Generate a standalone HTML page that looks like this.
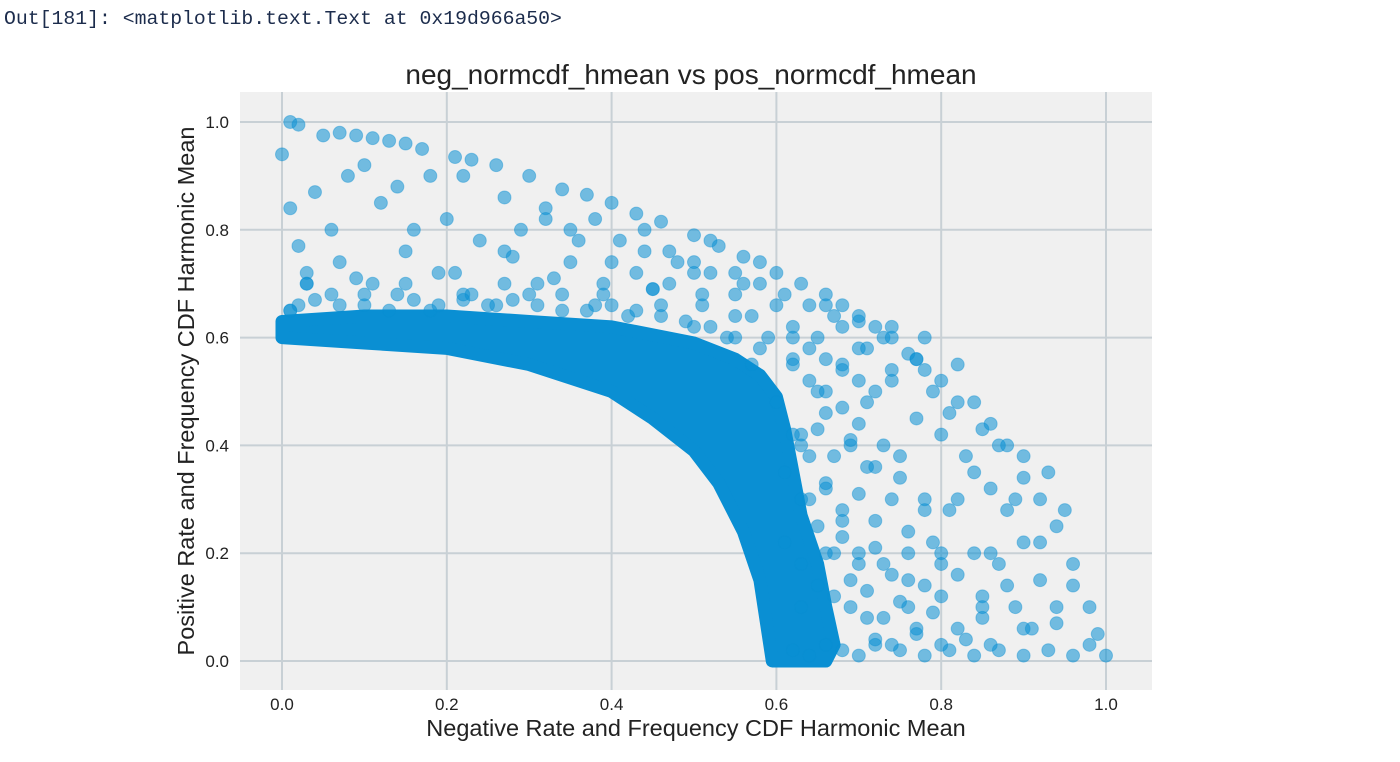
<!DOCTYPE html>
<html><head><meta charset="utf-8"><style>
body{margin:0;background:#fff;width:1400px;height:757px;overflow:hidden}
svg text{font-family:"Liberation Sans",sans-serif}
</style></head><body>
<svg width="1400" height="757">
<text x="4" y="24" style="font-family:'Liberation Mono',monospace" font-size="19.8" fill="#1c2c4c">Out[181]: &lt;matplotlib.text.Text at 0x19d966a50&gt;</text>
<rect x="240" y="92" width="912" height="598" fill="#f0f0f0"/>
<g id="grid"></g>
<g id="band"></g>
<g id="pts"></g>
<g id="ticks"></g>
<text x="691" y="84" text-anchor="middle" font-size="28" fill="#222">neg_normcdf_hmean vs pos_normcdf_hmean</text>
<text x="696" y="736" text-anchor="middle" font-size="23.5" fill="#222">Negative Rate and Frequency CDF Harmonic Mean</text>
<text transform="translate(194,391) rotate(-90)" text-anchor="middle" font-size="23.5" fill="#222">Positive Rate and Frequency CDF Harmonic Mean</text>
</svg>
<script>
const xTicks=[0,0.2,0.4,0.6,0.8,1.0];
const yTicks=[0,0.2,0.4,0.6,0.8,1.0];
const bandX=[0,0.1,0.2,0.3,0.4,0.5,0.55,0.58,0.6,0.61,0.62,0.63,0.65,0.66,0.67,0.66,0.64,0.6,0.595,0.59,0.58,0.56,0.53,0.5,0.45,0.4,0.3,0.2,0.1,0];
const bandY=[0.63,0.64,0.64,0.63,0.62,0.59,0.56,0.53,0.49,0.43,0.35,0.27,0.18,0.1,0.03,0.0,0.0,0.0,0.0,0.05,0.15,0.24,0.33,0.39,0.45,0.5,0.55,0.58,0.59,0.6];
const ptX=[0.01,0.02,0.05,0.07,0.09,0.11,0.13,0.15,0.17,0.21,0.23,0.26,0.3,0.34,0.37,0.4,0.43,0.46,0.5,0.53,0.56,0.6,0.63,0.66,0.68,0.7,0.73,0.76,0.78,0.8,0.82,0.85,0.87,0.9,0.92,0.94,0.96,0.98,0.99,1.0,
0.0,0.01,0.02,0.03,0.01,0.04,0.06,0.08,0.1,0.12,0.14,0.16,0.18,0.2,0.22,0.24,0.27,0.29,0.32,0.35,0.38,0.41,0.44,0.47,0.5,0.52,0.55,0.58,0.61,0.64,0.67,0.7,0.72,0.74,0.77,0.79,0.81,0.84,0.86,0.88,0.9,0.93,0.95,
0.03,0.07,0.11,0.15,0.19,0.23,0.27,0.31,0.35,0.39,0.43,0.47,0.51,0.55,0.59,0.62,0.65,0.68,0.71,0.74,0.77,0.8,0.83,0.86,0.89,0.92,
0.02,0.06,0.1,0.14,0.18,0.22,0.26,0.3,0.34,0.38,0.42,0.46,0.5,0.54,0.57,0.6,0.63,0.66,0.69,0.72,0.75,0.78,0.81,0.84,0.87,
0.62,0.64,0.66,0.68,0.7,0.72,0.75,0.78,0.81,0.84,0.87,0.9,0.93,0.96,0.98,0.63,0.67,0.71,0.76,0.8,0.85,0.89,0.94,
0.61,0.63,0.65,0.67,0.69,0.62,0.64,0.66,0.68,0.61,0.63,0.65,0.7,0.73,0.76,0.79,0.82,0.85,0.88,0.91,
0.01,0.04,0.07,0.1,0.13,0.16,0.19,0.22,0.25,0.28,0.31,0.34,0.37,0.4,0.43,0.46,0.49,0.52,0.55,0.58,0.03,0.09,0.15,0.21,0.27,0.33,0.39,0.45,0.51,0.57,
0.62,0.64,0.66,0.68,0.7,0.62,0.64,0.66,0.68,0.7,0.72,0.63,0.65,0.67,0.69,0.71,0.73,0.75,0.64,0.66,0.68,0.7,0.72,0.74,0.76,0.78,0.66,0.68,0.7,0.72,0.74,0.76,0.78,0.8,0.69,0.71,0.73,0.75,0.77,0.79,0.82,0.72,0.74,0.77,0.8,0.83,0.86,0.62,0.65,0.68,0.71,0.74,0.77,0.66,0.7,0.74,0.78,0.82,
0.44,0.48,0.52,0.56,0.58,0.6,0.55,0.5,0.45,0.4,0.36,0.32,0.28,0.84,0.88,0.9,0.86,0.82,0.92,0.94,0.96,0.9,0.85,0.8];
const ptY=[1.0,0.995,0.975,0.98,0.975,0.97,0.965,0.96,0.95,0.935,0.93,0.92,0.9,0.875,0.865,0.85,0.83,0.815,0.79,0.77,0.75,0.72,0.7,0.68,0.66,0.63,0.6,0.57,0.54,0.52,0.48,0.43,0.4,0.34,0.3,0.25,0.18,0.1,0.05,0.01,
0.94,0.84,0.77,0.72,0.65,0.87,0.8,0.9,0.92,0.85,0.88,0.8,0.9,0.82,0.9,0.78,0.86,0.8,0.84,0.8,0.82,0.78,0.8,0.76,0.74,0.78,0.72,0.7,0.68,0.66,0.64,0.58,0.62,0.54,0.56,0.5,0.46,0.48,0.44,0.4,0.38,0.35,0.28,
0.7,0.74,0.7,0.76,0.72,0.68,0.76,0.7,0.74,0.68,0.72,0.7,0.66,0.68,0.6,0.56,0.5,0.55,0.48,0.52,0.45,0.42,0.38,0.32,0.3,0.22,
0.66,0.68,0.66,0.68,0.65,0.67,0.66,0.68,0.65,0.66,0.64,0.66,0.62,0.6,0.55,0.48,0.42,0.46,0.4,0.36,0.38,0.3,0.28,0.2,0.18,
0.02,0.01,0.03,0.02,0.01,0.03,0.02,0.01,0.02,0.01,0.02,0.01,0.02,0.01,0.03,0.1,0.12,0.08,0.1,0.12,0.08,0.1,0.07,
0.35,0.3,0.25,0.2,0.15,0.42,0.38,0.32,0.26,0.22,0.18,0.14,0.2,0.18,0.15,0.22,0.16,0.12,0.14,0.06,
0.65,0.67,0.66,0.68,0.65,0.67,0.66,0.68,0.66,0.67,0.66,0.68,0.65,0.66,0.65,0.64,0.63,0.62,0.6,0.58,0.7,0.71,0.7,0.72,0.7,0.71,0.7,0.69,0.68,0.64,
0.55,0.52,0.5,0.47,0.44,0.6,0.58,0.56,0.54,0.52,0.5,0.4,0.43,0.38,0.41,0.36,0.4,0.34,0.3,0.33,0.28,0.31,0.26,0.3,0.24,0.28,0.2,0.23,0.18,0.21,0.16,0.2,0.14,0.18,0.1,0.13,0.08,0.11,0.06,0.09,0.06,0.04,0.03,0.05,0.03,0.04,0.03,0.62,0.6,0.62,0.58,0.6,0.56,0.66,0.64,0.62,0.6,0.55,
0.76,0.74,0.72,0.7,0.74,0.66,0.64,0.72,0.69,0.74,0.78,0.82,0.75,0.35,0.28,0.22,0.2,0.3,0.15,0.1,0.14,0.06,0.1,0.2];
const X=v=>282+v*824, Y=v=>661-v*539;
const NS='http://www.w3.org/2000/svg';
const grid=document.getElementById('grid'),ticks=document.getElementById('ticks');
xTicks.forEach(t=>{const l=document.createElementNS(NS,'line');


l.setAttribute('x1',X(t));l.setAttribute('x2',X(t));l.setAttribute('y1',92);l.setAttribute('y2',690);l.setAttribute('stroke','#c8d0d5');l.setAttribute('stroke-width',2);grid.appendChild(l);
const s=document.createElementNS(NS,'text');


s.setAttribute('x',X(t));s.setAttribute('y',710);s.setAttribute('text-anchor','middle');s.setAttribute('font-size','17');s.setAttribute('fill','#222');s.textContent=t.toFixed(1);ticks.appendChild(s);});
yTicks.forEach(t=>{const l=document.createElementNS(NS,'line');


l.setAttribute('x1',240);l.setAttribute('x2',1152);l.setAttribute('y1',Y(t));l.setAttribute('y2',Y(t));l.setAttribute('stroke','#c8d0d5');l.setAttribute('stroke-width',2);grid.appendChild(l);
const s=document.createElementNS(NS,'text');


s.setAttribute('x',229);s.setAttribute('y',Y(t)+6);s.setAttribute('text-anchor','end');s.setAttribute('font-size','17');s.setAttribute('fill','#222');s.textContent=t.toFixed(1);ticks.appendChild(s);});
const d='M'+bandX.map((x,i)=>X(x)+','+Y(bandY[i])).join(' L')+' Z';
const p=document.createElementNS(NS,'path');


p.setAttribute('d',d);p.setAttribute('fill','#0a8fd3');p.setAttribute('stroke','#0a8fd3');p.setAttribute('stroke-width',13);p.setAttribute('stroke-linejoin','round');
document.getElementById('band').appendChild(p);
const pts=document.getElementById('pts');
ptX.forEach((x,i)=>{const c=document.createElementNS(NS,'circle');


c.setAttribute('cx',X(x));c.setAttribute('cy',Y(ptY[i]));c.setAttribute('r',6.5);c.setAttribute('fill','#0a8fd3');c.setAttribute('fill-opacity',0.55);c.setAttribute('stroke','#0a8fd3');c.setAttribute('stroke-opacity',0.4);pts.appendChild(c);});
</script>
</body></html>
